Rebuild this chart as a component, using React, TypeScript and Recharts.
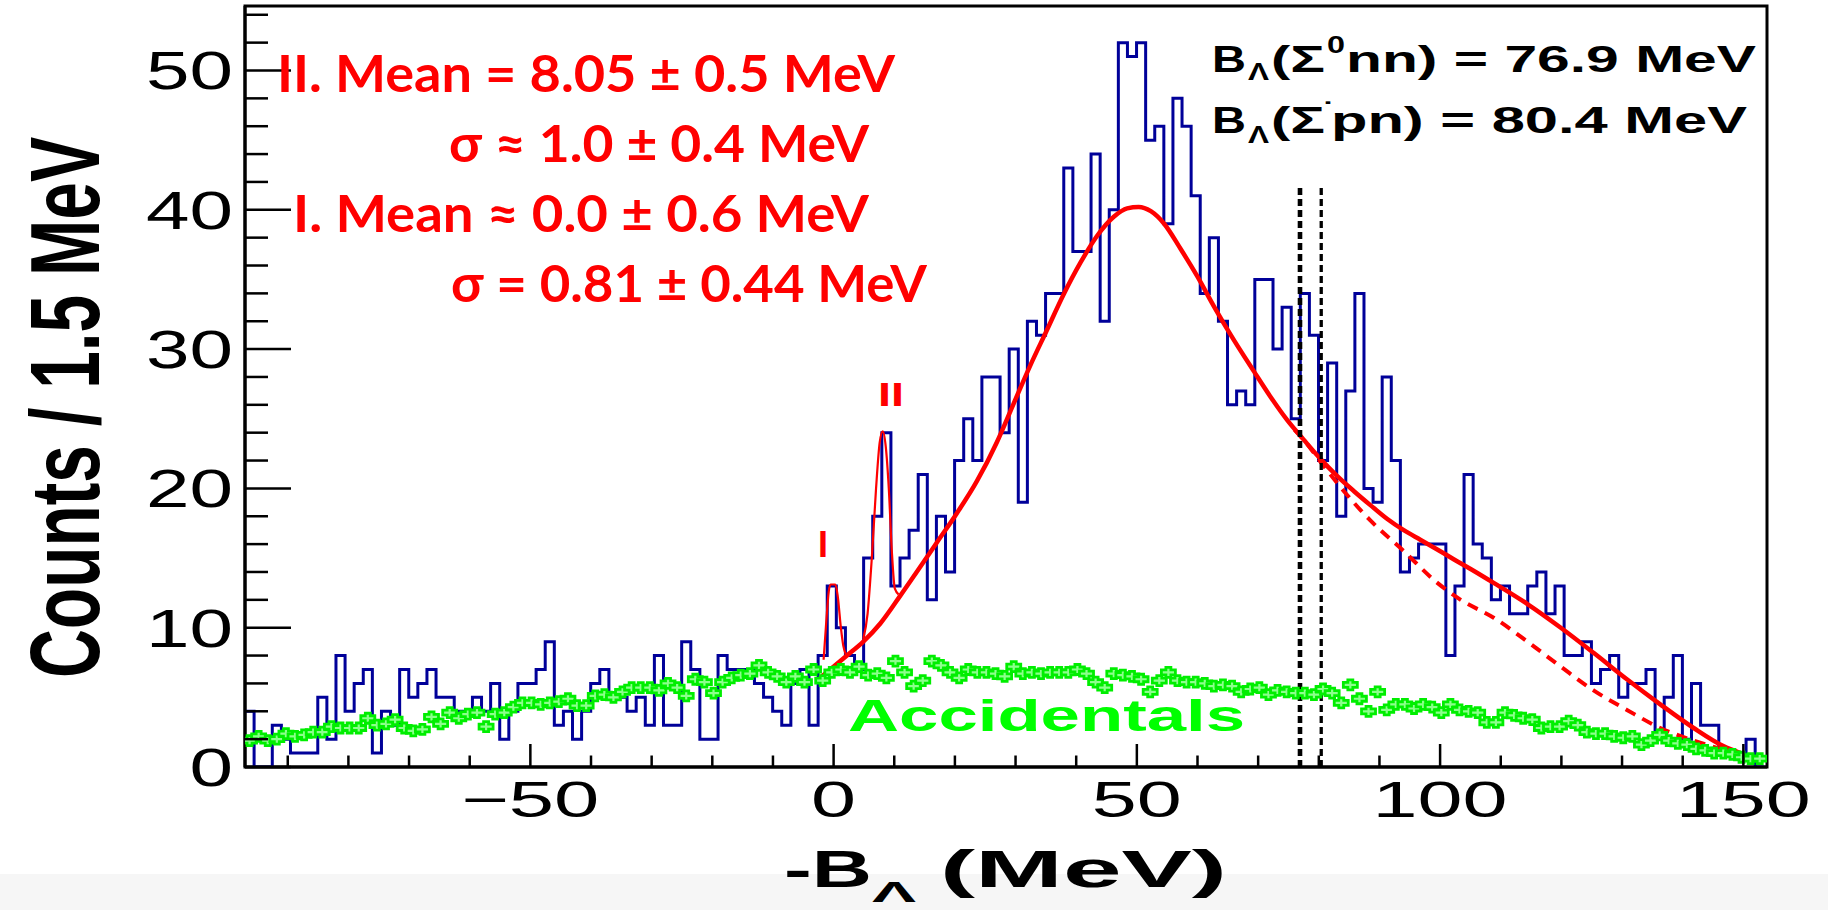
import React from "react";
import { ComposedChart, Line, Scatter, XAxis, YAxis, ReferenceLine, ReferenceArea } from "recharts";

// histogram binning (MeV)
const binStart = -97.05;
const binWidth = 1.5;
const xDomain: [number, number] = [-97.05, 153.9];
const yDomain: [number, number] = [0, 54.63];

// counts per 1.5 MeV bin, left to right
const counts = [
  4, 0, 0, 3, 2, 1, 1, 1, 5, 2, 8, 4, 6, 7, 1, 4, 3, 7, 5, 6, 7, 5, 5, 4, 4, 5, 4, 6,
  2, 4, 6, 6, 7, 9, 3, 4, 2, 4, 6, 7, 5, 5, 4, 5, 3, 8, 3, 3, 9, 7, 2, 2, 8, 7, 7, 7, 6, 5, 4, 3, 6, 7, 3, 8,
  13, 10, 8, 7, 15, 18, 24, 13, 15, 17, 21, 12, 18, 14, 22, 25, 22, 28, 28, 24, 30, 19, 32, 31, 34, 34,
  43, 37, 37, 44, 32, 40, 52, 51, 52, 45, 46, 39, 48, 46, 41, 34, 38, 32, 26, 27, 26, 35, 35, 30,
  33, 25, 34, 31, 22, 29, 18, 27, 34, 20, 19, 28, 22, 14, 15, 16, 16, 16, 8, 13, 21,
  16, 15, 12, 13, 11, 11, 13, 14, 11, 13, 8, 8, 9, 6, 7, 8, 5, 6, 6, 7, 2, 5, 8, 2, 6, 3, 3, 1, 1, 1, 2, 0,
];

// accidental background, one point per bin
const accidentals = [
  1.9, 2.2, 1.9, 2.0, 2.4, 2.2, 2.3, 2.5, 2.5, 2.9, 2.8, 2.8, 2.8, 3.5, 3.0, 3.1, 3.4, 2.8, 2.6, 2.7, 3.6, 3.1, 3.9, 3.5, 3.8, 3.9, 2.9, 3.8,
  3.9, 4.3, 4.6, 4.6, 4.5, 4.6, 4.7, 4.9, 4.4, 4.4, 5.1, 5.2, 5.0, 5.4, 5.7, 5.7, 5.7, 5.5, 6.0, 5.7, 5.1, 6.3, 6.1, 5.3, 6.1, 6.4, 6.6,
  6.7, 7.3, 6.8, 6.5, 6.1, 6.5, 6.1, 7.0, 6.2, 6.8, 7.0, 6.8, 7.2, 6.6, 6.7, 6.4, 7.6, 6.8, 5.8, 6.2, 7.6, 7.3, 6.8, 6.4, 7.0, 6.8,
  6.8, 6.7, 6.5, 7.2, 6.7, 6.8, 6.7, 6.8, 6.8, 6.8, 7.0, 6.7, 6.1, 5.7, 6.7, 6.6, 6.5, 6.3, 5.4, 6.2, 6.8, 6.2, 6.1, 6.1, 6.0, 5.8,
  5.9, 5.8, 5.4, 5.6, 5.7, 5.2, 5.5, 5.4, 5.3, 5.3, 5.2, 5.6, 5.3, 4.6, 5.9, 4.9, 4.0, 5.4, 4.1, 4.5, 4.5, 4.2, 4.5, 4.3, 3.9, 4.5, 4.1,
  4.0, 3.9, 3.2, 3.2, 3.9, 3.7, 3.5, 3.4, 2.8, 2.9, 2.9, 3.3, 3.0, 2.5, 2.4, 2.4, 2.2, 2.1, 2.2, 1.6, 1.9, 2.3, 1.9, 1.7, 1.6, 1.3, 1.2, 1.0, 1.0, 0.9, 0.7, 0.6, 0.6,
];

// broad fit
const fitMeV = [-2.2, 2.2, 4.9, 7.7, 11.0, 13.7, 17.0, 20.3, 23.6, 26.9, 29.6, 32.4, 35.1, 37.9, 40.7, 43.4, 46.2, 48.4, 50.3, 52.3, 54.5, 57.2, 60.0, 62.8, 65.5, 69.3, 72.0, 74.8, 77.5, 80.3, 83.0, 85.8, 88.5, 91.3, 94.0, 96.8, 99.6, 102.3, 105.1, 108.9, 114.4, 119.9, 125.3, 130.8, 136.3, 141.8, 146.7, 149.5];
const fitCounts = [6.4, 8.0, 9.0, 10.3, 12.3, 14.0, 16.1, 18.2, 20.5, 23.3, 26.0, 28.8, 31.3, 33.9, 36.2, 38.1, 39.5, 40.1, 40.2, 39.9, 39.0, 37.2, 35.2, 33.0, 31.0, 28.4, 26.6, 24.9, 23.5, 22.1, 20.9, 19.8, 18.8, 17.8, 17.0, 16.3, 15.6, 14.9, 14.2, 13.2, 11.7, 10.0, 8.2, 6.3, 4.5, 2.8, 1.5, 1.0];

// fit without the Sigma threshold terms (dashed)
const tailMeV = [76.0, 77.5, 80.3, 83.0, 88.5, 94.0, 99.6, 103.4, 108.9, 114.4, 119.9, 125.3, 130.8, 136.3, 141.8, 147.3, 149.5];
const tailCounts = [24.2, 23.5, 21.9, 20.4, 17.7, 15.5, 13.2, 12.0, 10.7, 9.0, 7.2, 5.5, 4.1, 2.8, 1.9, 1.2, 1.0];

// narrow peaks I and II
const peakIMeV = [-1.65, -1.2, -0.8, -0.5, 0.3, 0.7, 1.2, 1.6, 2.1];
const peakICounts = [7.7, 10.5, 12.6, 13.1, 13.1, 12.2, 10.0, 8.7, 8.0];
const peakIIMeV = [4.9, 5.6, 6.3, 7.0, 7.6, 8.1, 8.6, 9.1, 9.6, 10.1, 10.7];
const peakIICounts = [9.2, 11.0, 15.0, 20.0, 23.3, 24.1, 23.0, 20.0, 15.5, 12.8, 12.4];

const sigmaThresholds = [76.9, 80.4];
const sigmaLineTop = 41.6;

const xTicks = [-90, -80, -70, -60, -50, -40, -30, -20, -10, 0, 10, 20, 30, 40, 50, 60, 70, 80, 90, 100, 110, 120, 130, 140, 150];
const yTicks = [0, 2, 4, 6, 8, 10, 12, 14, 16, 18, 20, 22, 24, 26, 28, 30, 32, 34, 36, 38, 40, 42, 44, 46, 48, 50, 52, 54];

const histData = counts
  .map((c, i) => ({ x: binStart + i * binWidth, y: c }))
  .concat([{ x: binStart + counts.length * binWidth, y: 0 }]);
const accData = accidentals.map((v, i) => ({ x: binStart + (i + 0.5) * binWidth, y: v }));
const fitData = fitMeV.map((x, i) => ({ x, y: fitCounts[i] }));
const tailData = tailMeV.map((x, i) => ({ x, y: tailCounts[i] }));
const peakIData = peakIMeV.map((x, i) => ({ x, y: peakICounts[i] }));
const peakIIData = peakIIMeV.map((x, i) => ({ x, y: peakIICounts[i] }));

const rootFont = "'Liberation Sans', Arial, sans-serif";
const GREEN = "#00ee00";

function XTick(props: any) {
  const { x, y, payload } = props;
  const v = payload.value as number;
  const major = v % 50 === 0;
  const label = v < 0 ? "\u2212" + Math.abs(v) : String(v);
  const w = String(Math.abs(v)).length * 45 + (v < 0 ? 48 : 0);
  return (
    <g>
      <line x1={x} x2={x} y1={y} y2={y - (major ? 23 : 11.5)} stroke="#000" strokeWidth={2.5} />
      {major && (
        <text x={x} y={y + 50} textAnchor="middle" fontFamily={rootFont} fontSize={50} textLength={w} lengthAdjust="spacingAndGlyphs" fill="#000">
          {label}
        </text>
      )}
    </g>
  );
}

function YTick(props: any) {
  const { x, y, payload } = props;
  const v = payload.value as number;
  const major = v % 10 === 0;
  return (
    <g>
      <line x1={x} x2={x + (major ? 46 : 23)} y1={y} y2={y} stroke="#000" strokeWidth={2.5} />
      {major && (
        <text x={x - 12} y={y + 19} textAnchor="end" fontFamily={rootFont} fontSize={53} textLength={String(v).length * 43.5} lengthAdjust="spacingAndGlyphs" fill="#000">
          {v}
        </text>
      )}
    </g>
  );
}

function Cross(props: any) {
  const { cx, cy } = props;
  if (cx == null || cy == null) return null;
  const d = `M${cx - 7},${cy - 2.5} H${cx - 2.5} V${cy - 5} H${cx + 2.5} V${cy - 2.5} H${cx + 7} V${cy + 2.5} H${cx + 2.5} V${cy + 5} H${cx - 2.5} V${cy + 2.5} H${cx - 7} Z`;
  return <path d={d} fill="#8cff8c" stroke={GREEN} strokeWidth={2.8} />;
}

function Txt(p: { x: number; y: number; w: number; size: number; fill?: string; family?: string; weight?: number; children: React.ReactNode }) {
  return (
    <text x={p.x} y={p.y} fontSize={p.size} fontFamily={p.family ?? rootFont} fontWeight={p.weight ?? 700} fill={p.fill ?? "#000"} textLength={p.w} lengthAdjust="spacingAndGlyphs">
      {p.children}
    </text>
  );
}

export default function App() {
  const red = "#ff0000";
  const lato = "Lato, 'Open Sans', sans-serif";
  return (
    <div style={{ position: "absolute", left: 0, top: 0, width: 1828, height: 910, background: "#fff" }}>
      <div style={{ position: "absolute", left: 0, top: 874, width: 1828, height: 36, background: "#f6f6f6" }} />
      <div style={{ position: "absolute", left: 0, top: 0 }}>
        <ComposedChart width={1828} height={910} margin={{ top: 6, right: 61, bottom: 0, left: 0 }}>
          <XAxis
            dataKey="x"
            type="number"
            domain={xDomain}
            allowDataOverflow
            ticks={xTicks}
            interval={0}
            height={143}
            tickSize={0}
            tickMargin={0}
            tick={<XTick />}
            tickLine={false}
            axisLine={{ stroke: "#000", strokeWidth: 3 }}
          />
          <YAxis
            dataKey="y"
            type="number"
            domain={yDomain}
            allowDataOverflow
            ticks={yTicks}
            interval={0}
            width={245}
            tickSize={0}
            tickMargin={0}
            tick={<YTick />}
            tickLine={false}
            axisLine={{ stroke: "#000", strokeWidth: 3 }}
          />
          <ReferenceArea x1={xDomain[0]} x2={xDomain[1]} y1={yDomain[0]} y2={yDomain[1]} fill="none" stroke="#000" strokeWidth={3} />
          <Line data={histData} dataKey="y" type="stepAfter" stroke="#000099" strokeWidth={3} dot={false} activeDot={false} isAnimationActive={false} />
          <Scatter data={accData} dataKey="y" shape={<Cross />} isAnimationActive={false} />
          <Line data={tailData} dataKey="y" type="monotone" stroke={red} strokeWidth={4} strokeDasharray="11 8" dot={false} activeDot={false} isAnimationActive={false} />
          <Line data={fitData} dataKey="y" type="monotone" stroke={red} strokeWidth={4.5} dot={false} activeDot={false} isAnimationActive={false} />
          <Line data={peakIData} dataKey="y" type="monotone" stroke={red} strokeWidth={2.2} dot={false} activeDot={false} isAnimationActive={false} />
          <Line data={peakIIData} dataKey="y" type="monotone" stroke={red} strokeWidth={2.2} dot={false} activeDot={false} isAnimationActive={false} />
          {sigmaThresholds.map((t, i) => (
            <ReferenceLine
              key={t}
              segment={[{ x: t, y: 0 }, { x: t, y: sigmaLineTop }]}
              stroke="#000"
              strokeWidth={i === 0 ? 4.6 : 3.3}
              strokeDasharray="7 4"
            />
          ))}
        </ComposedChart>
      </div>
      <svg width={1828} height={910} style={{ position: "absolute", left: 0, top: 0, pointerEvents: "none" }}>
        {/* axis titles: condensed bold look from a stretched glyph height */}
        <text transform="translate(99,678) rotate(-90) scale(1,1.5)" fontSize={66} fontFamily={rootFont} fontWeight={700} textLength={541} lengthAdjust="spacingAndGlyphs" fill="#000">
          Counts / 1.5 MeV
        </text>
        <Txt x={784} y={887} w={88} size={52}>-B</Txt>
        <Txt x={872} y={902} w={44} size={29}>Λ</Txt>
        <Txt x={940} y={887} w={287} size={52}>(MeV)</Txt>

        {/* red fit results */}
        <Txt x={277} y={92} w={618} size={51} fill={red} family={lato}>II. Mean = 8.05 ± 0.5 MeV</Txt>
        <Txt x={449} y={162} w={420} size={51} fill={red} family={lato}>σ ≈ 1.0 ± 0.4 MeV</Txt>
        <Txt x={293} y={232} w={576} size={51} fill={red} family={lato}>I. Mean ≈ 0.0 ± 0.6 MeV</Txt>
        <Txt x={451} y={302} w={476} size={51} fill={red} family={lato}>σ = 0.81 ± 0.44 MeV</Txt>

        {/* binding energy thresholds */}
        <Txt x={1212} y={72} w={34} size={37}>B</Txt>
        <Txt x={1248} y={80} w={21} size={24}>Λ</Txt>
        <Txt x={1271} y={72} w={54} size={37}>(Σ</Txt>
        <Txt x={1327} y={53} w={18} size={24}>0</Txt>
        <Txt x={1346} y={72} w={410} size={37}>nn) = 76.9 MeV</Txt>
        <Txt x={1212} y={133} w={34} size={37}>B</Txt>
        <Txt x={1248} y={143} w={21} size={24}>Λ</Txt>
        <Txt x={1271} y={133} w={54} size={37}>(Σ</Txt>
        <Txt x={1325} y={108} w={6} size={22}>-</Txt>
        <Txt x={1331} y={133} w={416} size={37}>pn) = 80.4 MeV</Txt>

        {/* peak labels */}
        <Txt x={818} y={557} w={10} size={36} fill={red}>I</Txt>
        <Txt x={878} y={406} w={26} size={34} fill={red}>II</Txt>
        <Txt x={848} y={731} w={397} size={44} fill="#00ff00">Accidentals</Txt>
      </svg>
    </div>
  );
}
